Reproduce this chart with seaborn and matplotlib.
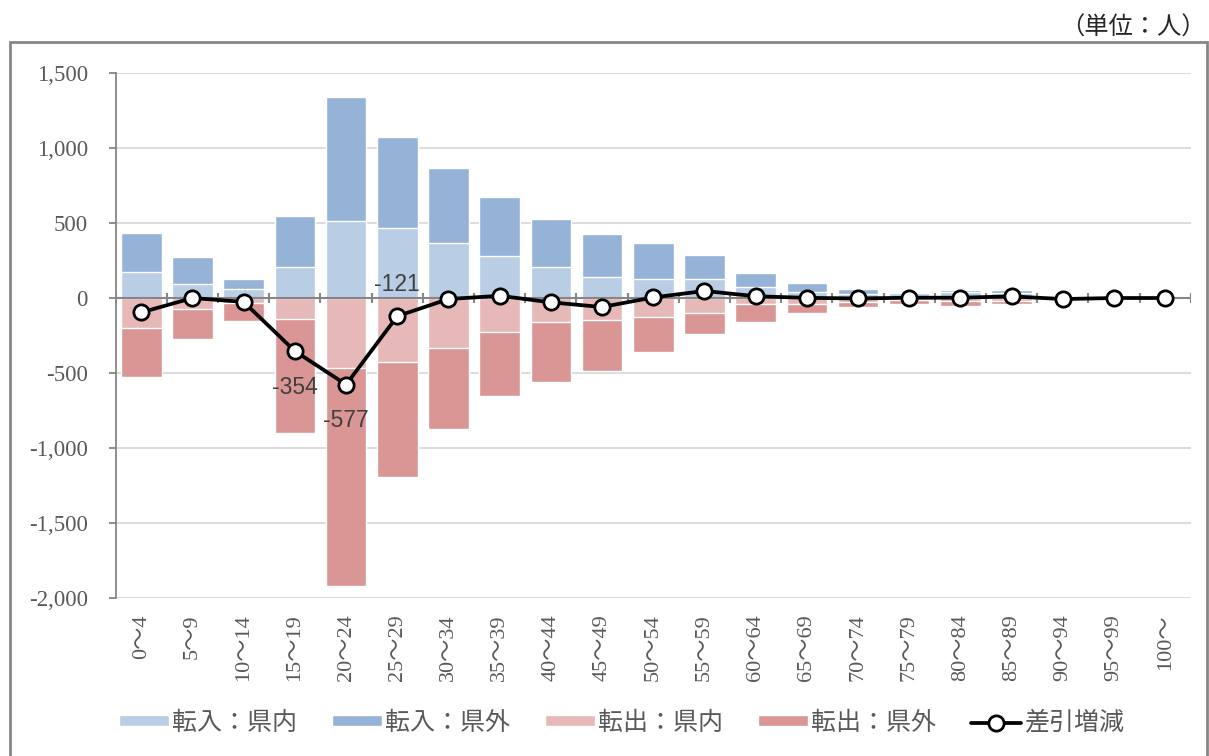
import numpy as np
import matplotlib
matplotlib.use("Agg")
import matplotlib.pyplot as plt
import seaborn as sns
from matplotlib.patches import Patch, Rectangle
from matplotlib.lines import Line2D

# ---------------------------
# DATA (persons)
# ---------------------------
ages = ["0～4", "5～9", "10～14", "15～19", "20～24", "25～29", "30～34",
        "35～39", "40～44", "45～49", "50～54", "55～59", "60～64", "65～69",
        "70～74", "75～79", "80～84", "85～89", "90～94", "95～99", "100～"]

in_pref = [173, 91, 58, 209, 511, 464, 366, 280, 207, 138, 124, 126,
           71, 38, 27, 31, 38, 36, 5, 2, 0]
in_other = [260, 185, 69, 340, 831, 607, 503, 391, 322, 289, 240, 161,
            99, 65, 30, 11, 15, 15, 3, 1, 1]
out_pref = [-201, -76, -36, -142, -469, -427, -331, -224, -162, -147, -129, -98,
            -40, -40, -24, -13, -18, -18, -10, -2, -1]
out_other = [-328, -200, -117, -760, -1449, -764, -545, -432, -396, -338, -233, -142,
             -118, -62, -36, -27, -33, -22, -5, -1, 0]
net = [-96, 0, -26, -354, -577, -121, -7, 15, -29, -60, 4, 47,
       12, 1, -3, 2, 2, 11, -7, 0, 0]

labelled = {3: "below", 4: "below", 5: "above"}

legend_labels = ["転入：県内", "転入：県外", "転出：県内", "転出：県外", "差引増減"]
c_in_pref, c_in_other = "#B9CDE5", "#95B3D7"
c_out_pref, c_out_other = "#E6B9B8", "#D99694"

# ---------------------------
# FIGURE
# ---------------------------
sns.set_theme(style="white")
plt.rcParams["font.family"] = ["Noto Sans CJK JP", "DejaVu Sans"]

fig = plt.figure(figsize=(12.09, 7.56), dpi=100)
ax = fig.add_axes([0.0957, 0.2090, 0.8893, 0.6944])

in_total = np.array(in_pref) + np.array(in_other)
out_total = np.array(out_pref) + np.array(out_other)

bw = 0.79
kw = dict(width=bw, edgecolor="white", linewidth=1, saturation=1, errorbar=None, ax=ax, zorder=2)
sns.barplot(x=ages, y=in_total, color=c_in_other, **kw)
sns.barplot(x=ages, y=in_pref, color=c_in_pref, **kw)
sns.barplot(x=ages, y=out_total, color=c_out_other, **kw)
sns.barplot(x=ages, y=out_pref, color=c_out_pref, **kw)

# zero axis with crossing ticks at category boundaries
ax.axhline(0, color="#868686", lw=1.5, zorder=3)
bounds = np.arange(len(ages) + 1) - 0.5
ax.vlines(bounds, -35, 35, color="#868686", lw=1.5, zorder=3)

sns.lineplot(x=np.arange(len(ages)), y=net, ax=ax, color="black", lw=2.7,
             marker="o", markersize=11, markerfacecolor="white",
             markeredgecolor="black", markeredgewidth=2, zorder=5)

for i, pos in labelled.items():
    dy = 23 if pos == "above" else -26
    ax.annotate(f"{net[i]}", (i, net[i]), xytext=(0, dy), textcoords="offset points",
                ha="center", va="center", fontsize=16.5, color="#404040",
                family=["Liberation Sans", "DejaVu Sans"], zorder=6)

ax.set_xlim(-0.5, len(ages) - 0.5)
ax.set_ylim(-2000, 1500)
yt = np.arange(-2000, 1501, 500)
ax.set_yticks(yt)
ax.set_yticklabels([f"{v:,}" for v in yt], family=["Liberation Serif", "DejaVu Serif"],
                   fontsize=16.5, color="#595959")
ax.set_xticks(np.arange(len(ages)))
ax.set_xticklabels(ages, rotation=90, family=["Liberation Serif", "Noto Sans CJK JP"],
                   fontsize=16, color="#595959")
ax.tick_params(axis="y", left=True, length=5, width=1.3, color="#868686", pad=15)
ax.tick_params(axis="x", bottom=False, length=0, pad=12)
ax.set_xlabel("")
ax.set_ylabel("")

ax.yaxis.grid(True, color="#D9D9D9", lw=1.3)
ax.set_axisbelow(True)
for s in ["top", "right", "bottom"]:
    ax.spines[s].set_visible(False)
ax.spines["left"].set_color("#868686")
ax.spines["left"].set_linewidth(1.3)

handles = [Patch(facecolor=c_in_pref), Patch(facecolor=c_in_other),
           Patch(facecolor=c_out_pref), Patch(facecolor=c_out_other),
           Line2D([], [], color="black", lw=2.7, marker="o", markersize=11,
                  markerfacecolor="white", markeredgecolor="black", markeredgewidth=2)]
fig.legend(handles, legend_labels, loc="center", bbox_to_anchor=(0.514, 0.044),
           ncol=5, frameon=False, fontsize=18, handlelength=2.0, handleheight=0.28,
           handletextpad=0.12, columnspacing=1.4, labelcolor="#595959")

# outer frame and unit label
fig.patches.append(Rectangle((10 / 1209, -0.01), 1197 / 1209, 0.9444 + 0.01,
                             transform=fig.transFigure, fill=False,
                             edgecolor="#868686", lw=2, clip_on=False))
fig.text(1206 / 1209, 0.964, "（単位：人）", ha="right", va="center", fontsize=17.5, color="#262626")

fig.savefig("out.png", dpi=100)
